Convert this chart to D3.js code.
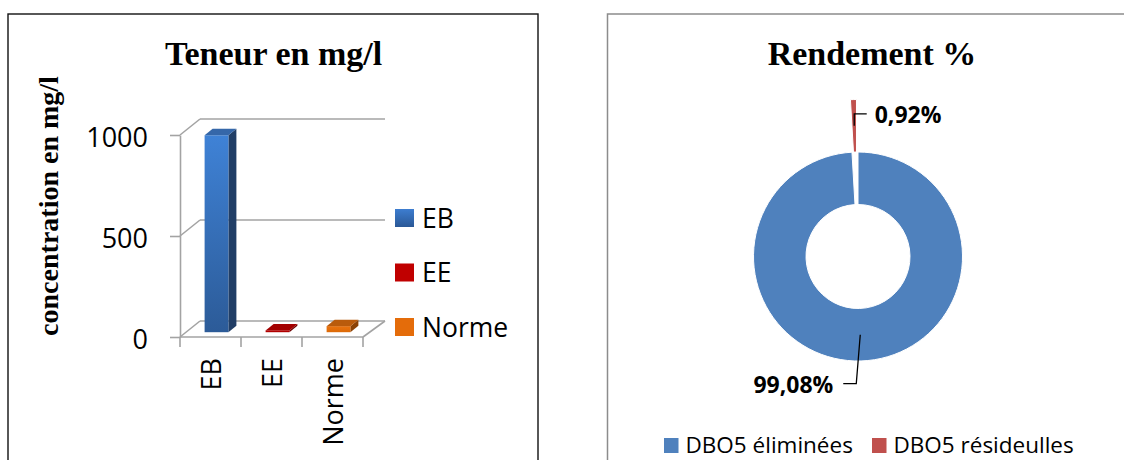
<!DOCTYPE html>
<html>
<head>
<meta charset="utf-8">
<script src="https://cdn.jsdelivr.net/npm/d3@7"></script>
<style>
  html, body { margin: 0; padding: 0; background: #fff; }
  svg { display: block; }
</style>
</head>
<body>
<svg id="chart" width="1124" height="460"></svg>
<script>
// ---------- data ----------
const categories = ["EB", "EE", "Norme"];
const values = [975, 9, 30];
const yTicks = [0, 500, 1000];
const barTitle = "Teneur en mg/l";
const yTitle = "concentration en mg/l";

const donutTitle = "Rendement %";
const donutNames = ["DBO5 éliminées", "DBO5 résideulles"];
const donutValues = [99.08, 0.92];
const donutLabels = ["99,08%", "0,92%"];

// ---------- styles ----------
const barColors = {
  EB:    { front: ["#3f82d6", "#2c5b98"], side: "#213e66", top: "#3567a9", legend: ["#3d7dd0", "#2a5896"] },
  EE:    { front: ["#c00000", "#a80000"], side: "#6e0000", top: "#a30000", legend: ["#c00000", "#c00000"] },
  Norme: { front: ["#ea730f", "#dc6a08"], side: "#8a4206", top: "#b95b0c", legend: ["#e46c0a", "#e46c0a"] }
};
const donutColors = ["#4f81bd", "#c0504d"];
const gridColor = "#a3a3a3";
const sans = "'Open Sans', sans-serif";
const serif = "'Liberation Serif', 'Times New Roman', serif";

const svg = d3.select("#chart");
const defs = svg.append("defs");

// ---------- panels ----------
svg.append("rect").attr("x", 8).attr("y", 14).attr("width", 530).attr("height", 470)
  .attr("fill", "none").attr("stroke", "#111").attr("stroke-width", 1.4);
svg.append("rect").attr("x", 607.5).attr("y", 14).attr("width", 540).attr("height", 470)
  .attr("fill", "none").attr("stroke", "#8c8c8c").attr("stroke-width", 1.5);

// ================= LEFT: pseudo-3D column chart =================
const DX = 20, DY = -16;              // depth offset of the back wall
const y = d3.scaleLinear().domain([0, 1000]).range([337, 135]);
const x = d3.scaleBand().domain(categories).range([180, 363]);

svg.append("text").attr("x", 273.5).attr("y", 65).attr("text-anchor", "middle")
  .style("font-family", serif).style("font-weight", "bold").style("font-size", "34px")
  .text(barTitle);

svg.append("text")
  .attr("transform", "translate(58,206) rotate(-90)")
  .attr("text-anchor", "middle")
  .style("font-family", serif).style("font-weight", "bold").style("font-size", "28px")
  .text(yTitle);

const g3 = svg.append("g");
const x0 = x.range()[0], x1 = x.range()[1];

// back wall gridlines + side wall diagonals
yTicks.forEach(t => {
  g3.append("line").attr("x1", x0 + DX).attr("x2", x1 + DX + 2)
    .attr("y1", y(t) + DY).attr("y2", y(t) + DY)
    .attr("stroke", gridColor).attr("stroke-width", 1.6);
  g3.append("line").attr("x1", x0).attr("x2", x0 + DX)
    .attr("y1", y(t)).attr("y2", y(t) + DY)
    .attr("stroke", gridColor).attr("stroke-width", 1.6);
});
// floor: front edge and right edge
g3.append("line").attr("x1", x0).attr("x2", x1).attr("y1", y(0)).attr("y2", y(0))
  .attr("stroke", gridColor).attr("stroke-width", 1.6);
g3.append("line").attr("x1", x1).attr("x2", x1 + DX + 2).attr("y1", y(0)).attr("y2", y(0) + DY)
  .attr("stroke", gridColor).attr("stroke-width", 1.6);
// category tick marks at band boundaries
const bounds = categories.map(c => x(c)).concat([x1]);
g3.selectAll(".ctick").data(bounds).join("line")
  .attr("x1", d => d).attr("x2", d => d).attr("y1", y(0)).attr("y2", y(0) + 10)
  .attr("stroke", gridColor).attr("stroke-width", 1.6);

// y axis
const yAxis = d3.axisLeft(y).tickValues(yTicks).tickSize(10).tickSizeOuter(0).tickPadding(22)
  .tickFormat(d3.format("d"));
const ya = svg.append("g").attr("transform", `translate(${x0},0)`).call(yAxis);
ya.select(".domain").attr("stroke", gridColor).attr("stroke-width", 1.6);
ya.selectAll(".tick line").attr("stroke", gridColor).attr("stroke-width", 1.6);
ya.selectAll(".tick text").style("font-family", sans).style("font-size", "27px")
  .attr("fill", "#000").attr("dy", "0.42em");

// category labels (rotated)
svg.selectAll(".clabel").data(categories).join("text")
  .attr("transform", d => `translate(${x(d) + x.bandwidth() / 2 + 1},358) rotate(-90)`)
  .attr("text-anchor", "end").attr("dy", "0.36em")
  .style("font-family", sans).style("font-size", "27px").text(d => d);

// bars
const barW = x.bandwidth() * 0.39;
const f0 = 0.3, f1 = 0.7;            // bar depth span (fraction of wall depth)
categories.forEach((c, i) => {
  const col = barColors[c];
  const gid = "grad" + i;
  const gr = defs.append("linearGradient").attr("id", gid)
    .attr("x1", 0).attr("y1", 0).attr("x2", 0).attr("y2", 1);
  gr.append("stop").attr("offset", "0%").attr("stop-color", col.front[0]);
  gr.append("stop").attr("offset", "100%").attr("stop-color", col.front[1]);

  const fx = x(c) + x.bandwidth() / 2 - barW / 2 + f0 * DX;
  const fyBase = y(0) + f0 * DY;
  const fyTop = y(values[i]) + f0 * DY;
  const ddx = (f1 - f0) * DX, ddy = (f1 - f0) * DY;
  const pts = a => a.map(p => p.join(",")).join(" ");

  g3.append("polygon").attr("points", pts([[fx + barW, fyTop], [fx + barW + ddx, fyTop + ddy],
      [fx + barW + ddx, fyBase + ddy], [fx + barW, fyBase]]))
    .attr("fill", col.side);
  g3.append("rect").attr("x", fx).attr("y", fyTop).attr("width", barW)
    .attr("height", Math.max(0.6, fyBase - fyTop)).attr("fill", `url(#${gid})`);
  g3.append("polygon").attr("points", pts([[fx, fyTop], [fx + barW, fyTop],
      [fx + barW + ddx, fyTop + ddy], [fx + ddx, fyTop + ddy]]))
    .attr("fill", col.top);
});

// legend
const leg = svg.append("g");
categories.forEach((c, i) => {
  const col = barColors[c];
  const lid = "lgrad" + i;
  const gr = defs.append("linearGradient").attr("id", lid)
    .attr("x1", 0).attr("y1", 0).attr("x2", 0).attr("y2", 1);
  gr.append("stop").attr("offset", "0%").attr("stop-color", col.legend[0]);
  gr.append("stop").attr("offset", "100%").attr("stop-color", col.legend[1]);
  const yy = 209 + i * 54.5;
  leg.append("rect").attr("x", 395).attr("y", yy).attr("width", 19).attr("height", 18)
    .attr("fill", `url(#${lid})`);
  leg.append("text").attr("x", 422).attr("y", yy + 18.5)
    .style("font-family", sans).style("font-size", "26.5px").text(c);
});

// ================= RIGHT: donut =================
const cx = 858, cy = 256.5, rOut = 104.5, rIn = 52, explode = 52.5;

svg.append("text").attr("x", 872).attr("y", 65).attr("text-anchor", "middle")
  .style("font-family", serif).style("font-weight", "bold").style("font-size", "34px")
  .text(donutTitle);

const pie = d3.pie().sort(null).value(d => d);
const arcs = pie(donutValues);
const arc = d3.arc().innerRadius(rIn).outerRadius(rOut);
const dg = svg.append("g").attr("transform", `translate(${cx},${cy})`);

const offsets = arcs.map((a, i) => {
  const m = (a.startAngle + a.endAngle) / 2;
  const e = i === 1 ? explode : 0;
  return [Math.sin(m) * e, -Math.cos(m) * e];
});

dg.selectAll("path").data(arcs).join("path")
  .attr("d", arc)
  .attr("transform", (d, i) => `translate(${offsets[i][0]},${offsets[i][1]})`)
  .attr("fill", (d, i) => donutColors[i])
  .attr("stroke", "#fff").attr("stroke-width", 1);

// leader lines from slice centroids + labels
const leaderElbows = [
  { bend: [-4, 49], end: [-13, 0], anchor: "end", tx: -10, ty: 9 },
  { bend: [0, -12], end: [12.5, 0], anchor: "start", tx: 8, ty: 9 }
];
arcs.forEach((a, i) => {
  const c = arc.centroid(a);
  const p0 = [c[0] + offsets[i][0], c[1] + offsets[i][1]];
  const L = leaderElbows[i];
  const p1 = [p0[0] + L.bend[0], p0[1] + L.bend[1]];
  const p2 = [p1[0] + L.end[0], p1[1]];
  dg.append("path").attr("d", d3.line()([p0, p1, p2]))
    .attr("fill", "none").attr("stroke", "#000").attr("stroke-width", 1.3);
  dg.append("text").attr("x", p2[0] + L.tx).attr("y", p2[1] + L.ty)
    .attr("text-anchor", L.anchor)
    .style("font-family", sans).style("font-weight", "bold").style("font-size", "23px")
    .text(donutLabels[i]);
});

// donut legend
const dleg = svg.append("g");
const legX = [664, 872];
donutNames.forEach((n, i) => {
  dleg.append("rect").attr("x", legX[i]).attr("y", 438).attr("width", 14.5).attr("height", 15)
    .attr("fill", donutColors[i]);
  dleg.append("text").attr("x", legX[i] + 21.5).attr("y", 453)
    .style("font-family", sans).style("font-size", "22.5px").text(n);
});
</script>
</body>
</html>
